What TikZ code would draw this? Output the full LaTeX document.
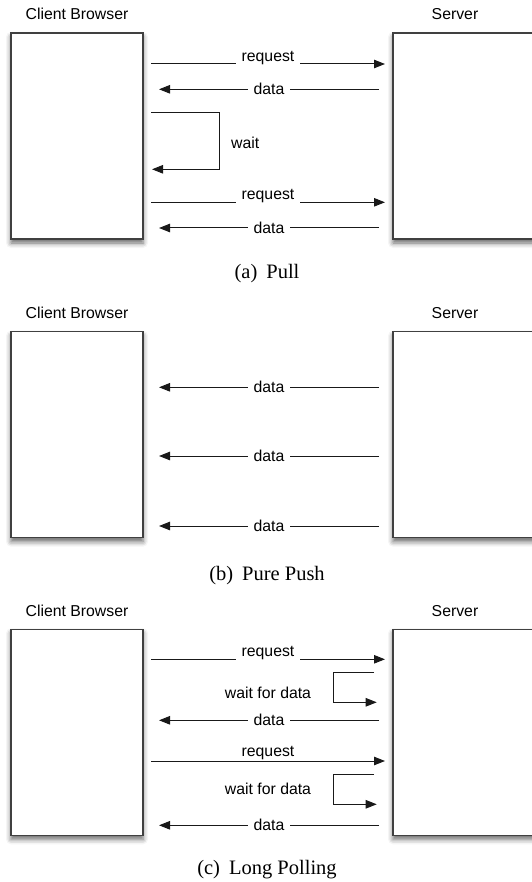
\documentclass[tikz,border=0pt]{standalone}
\usepackage{fontspec}
\setmainfont{Liberation Serif}
\newfontfamily\labfont{Liberation Sans}
\usetikzlibrary{arrows.meta,shadows.blur}
\tikzset{
  pane/.style={draw=black!75, line width=1.5pt, fill=white, inner sep=0pt, outer sep=0pt,
    anchor=north west, minimum width=132pt, minimum height=206pt,
    blur shadow={shadow xshift=0pt, shadow yshift=-4pt, shadow blur radius=5pt, shadow opacity=60}},
  srvpane/.style={pane, minimum width=160pt},
  head/.style={font=\labfont\fontsize{15.8}{18}\selectfont, anchor=base, inner sep=0pt},
  lbl/.style={font=\labfont\fontsize{15.8}{18}\selectfont, inner xsep=6pt, inner ysep=1pt},
  lblfill/.style={lbl, fill=white},
  lblabove/.style={lbl, fill=white, anchor=south, inner ysep=0pt, yshift=-1pt},
  lbltop/.style={lbl, anchor=south, inner ysep=0pt, yshift=0.5pt},
  captext/.style={font=\fontsize{20.5}{24}\selectfont, anchor=base, inner sep=0pt},
  msg/.style={draw=black!90, line width=1pt, -{Triangle[length=11pt,width=8.5pt]}},
  loopmsg/.style={msg, rounded corners=0pt},
}
\begin{document}
\begin{tikzpicture}[x=1pt,y=-1pt]
\useasboundingbox (0,0) rectangle (531,882);

% ---------------- (a) Pull ----------------
\node[head] (cA) at (77,19.5) {Client Browser};
\node[head] (sA) at (455,19.5) {Server};
\node[pane] (clA) at (11,33) {};
\node[srvpane] (svA) at (393,33) {};
\coordinate (a1s) at (151,64);     \coordinate (a1e) at (385,64);
\coordinate (a2s) at (379,89.3);   \coordinate (a2e) at (159,89.3);
\coordinate (w1) at (151,112.7);   \coordinate (w2) at (219,112.7);
\coordinate (w3) at (219,169.3);   \coordinate (w4) at (152,169.3);
\coordinate (a3s) at (151,202.3);  \coordinate (a3e) at (385,202.3);
\coordinate (a4s) at (379,228);    \coordinate (a4e) at (159,228);
\draw[msg] (a1s) -- node[lblabove, midway] (la1) {request} (a1e);
\draw[msg] (a2s) -- node[lblfill, midway] (la2) {data} (a2e);
\draw[loopmsg] (w1) -- (w2) -- (w3) -- (w4);
\node[lbl, anchor=west, inner sep=0pt] (lw) at (231,143) {wait};
\draw[msg] (a3s) -- node[lblabove, midway] (la3) {request} (a3e);
\draw[msg] (a4s) -- node[lblfill, midway] (la4) {data} (a4e);
\node[captext] (capA) at (267,278.5) {(a)\hspace{9pt}Pull};

% ---------------- (b) Pure Push ----------------
\node[head] (cB) at (77,318.3) {Client Browser};
\node[head] (sB) at (455,318.3) {Server};
\node[pane] (clB) at (11,331.7) {};
\node[srvpane] (svB) at (393,331.7) {};
\coordinate (b1s) at (379,387.3);  \coordinate (b1e) at (159,387.3);
\coordinate (b2s) at (379,456);    \coordinate (b2e) at (159,456);
\coordinate (b3s) at (379,526);    \coordinate (b3e) at (159,526);
\draw[msg] (b1s) -- node[lblfill, midway] (lb1) {data} (b1e);
\draw[msg] (b2s) -- node[lblfill, midway] (lb2) {data} (b2e);
\draw[msg] (b3s) -- node[lblfill, midway] (lb3) {data} (b3e);
\node[captext] (capB) at (267,580) {(b)\hspace{9pt}Pure Push};

% ---------------- (c) Long Polling ----------------
\node[head] (cC) at (77,616.3) {Client Browser};
\node[head] (sC) at (455,616.3) {Server};
\node[pane] (clC) at (11,629.3) {};
\node[srvpane] (svC) at (393,629.3) {};
\coordinate (c1s) at (151,659.3);  \coordinate (c1e) at (385,659.3);
\coordinate (v1) at (374,672.3);   \coordinate (v2) at (333,672.3);
\coordinate (v3) at (333,702.3);   \coordinate (v4) at (376.7,702.3);
\coordinate (c2s) at (379,720.3);  \coordinate (c2e) at (159,720.3);
\coordinate (c3s) at (151,761);    \coordinate (c3e) at (385,761);
\coordinate (u1) at (374,774.3);   \coordinate (u2) at (333,774.3);
\coordinate (u3) at (333,804.3);   \coordinate (u4) at (376.7,804.3);
\coordinate (c4s) at (379,825.3);  \coordinate (c4e) at (159,825.3);
\draw[msg] (c1s) -- node[lblabove, midway] (lc1) {request} (c1e);
\draw[loopmsg] (v1) -- (v2) -- (v3) -- (v4);
\node[lbl, inner sep=0pt] (lwc1) at (268,692.7) {wait for data};
\draw[msg] (c2s) -- node[lblfill, midway] (lc2) {data} (c2e);
\draw[msg] (c3s) -- node[lbltop, midway] (lc3) {request} (c3e);
\draw[loopmsg] (u1) -- (u2) -- (u3) -- (u4);
\node[lbl, inner sep=0pt] (lwc2) at (268,789.3) {wait for data};
\draw[msg] (c4s) -- node[lblfill, midway] (lc4) {data} (c4e);
\node[captext] (capC) at (267,874.5) {(c)\hspace{9pt}Long Polling};
\end{tikzpicture}
\end{document}
